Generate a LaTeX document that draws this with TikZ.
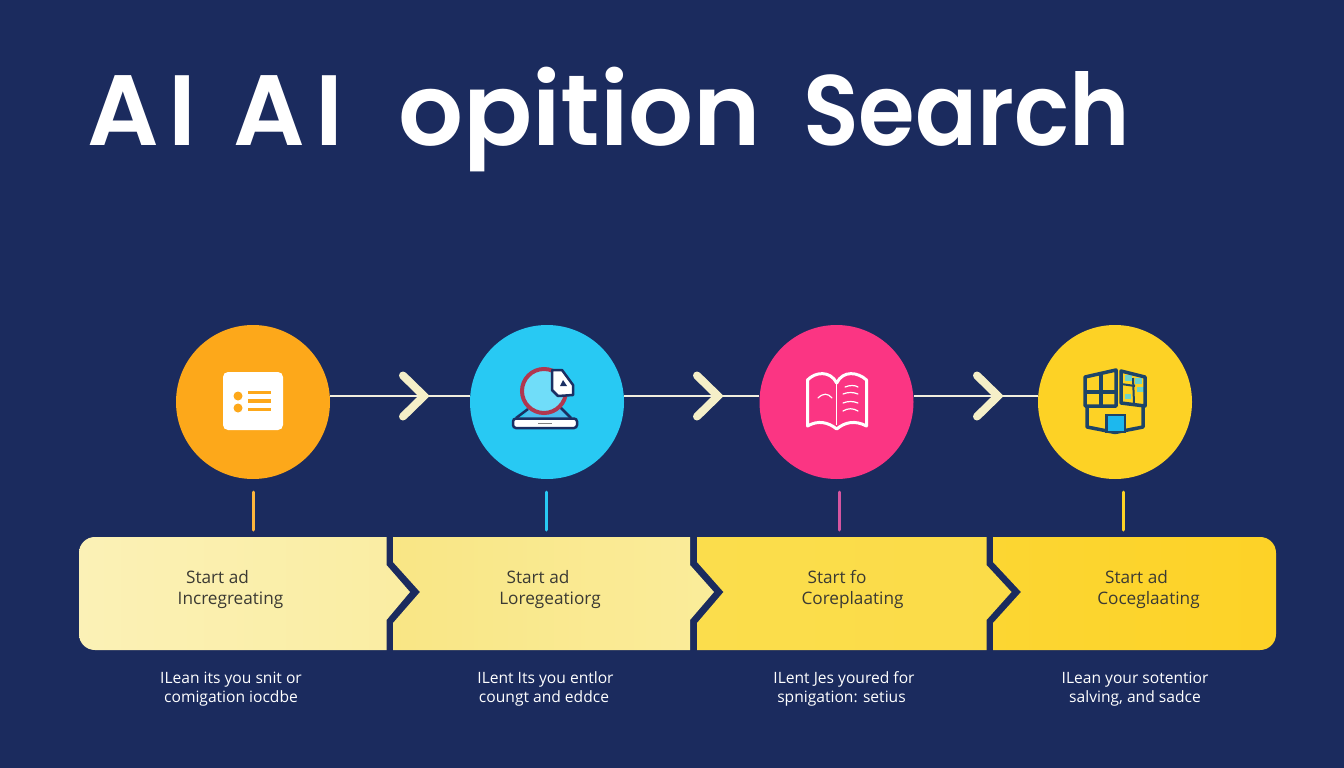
\documentclass[tikz,border=0pt]{standalone}
\usepackage{fontspec}
\setmainfont{Open Sans}
\newfontfamily\ttlfont{Poppins SemiBold}
\definecolor{bgc}{HTML}{1B2B5E}
\definecolor{cream}{HTML}{F5EFC8}
\definecolor{wire}{HTML}{F2EFDF}
\definecolor{navy}{HTML}{1B2F63}
\definecolor{ink}{HTML}{3B3A33}
\definecolor{corange}{HTML}{FDA81A}
\definecolor{ccyan}{HTML}{28C9F3}
\definecolor{cpink}{HTML}{FB3583}
\definecolor{cyell}{HTML}{FDD225}
\definecolor{bldg}{HTML}{1D4468}
\definecolor{sa}{HTML}{FBF1B6}
\definecolor{sb}{HTML}{FAEDA2}
\definecolor{sc}{HTML}{F9E685}
\definecolor{sd}{HTML}{FAEC9A}
\definecolor{se}{HTML}{FBDD4C}
\definecolor{sf}{HTML}{FBDC48}
\definecolor{sg}{HTML}{FCD632}
\definecolor{sh}{HTML}{FDD227}
\definecolor{ticki}{HTML}{D555A0}
\definecolor{ringr}{HTML}{B0374F}
\definecolor{lens}{HTML}{70DDF9}
\definecolor{stand}{HTML}{4DBDEF}
\definecolor{door}{HTML}{1CB8EE}
\definecolor{pane}{HTML}{6FD3C8}
\tikzset{
  stepdisc/.style={circle,minimum size=154pt,inner sep=0pt,draw=none},
  wireline/.style={draw=wire,line width=2.5pt},
  chev/.style={draw=cream,line width=8pt,line cap=round,miter limit=10},
  tick/.style={line width=3pt,line cap=round},
  ttl/.style={font=\ttlfont\fontsize{100}{100}\selectfont,text=white,anchor=base west,inner sep=0pt},
  seglabel/.style={font=\fontsize{17.2}{18}\selectfont,text=ink,inner sep=0pt,anchor=base},
  sublabel/.style={font=\fontsize{15.6}{16}\selectfont,text=white,inner sep=0pt,anchor=base},
  booki/.style={draw=white,line width=3pt,line join=round},
  booko/.style={draw=white,line width=1.2pt,line cap=round},
  bld/.style={draw=bldg,line width=3.5pt,line join=round},
}
\begin{document}
\begin{tikzpicture}[x=1pt,y=-1pt]
\fill[bgc] (0,0) rectangle (1344,768);
\useasboundingbox (0,0) rectangle (1344,768);
% title
\node[ttl] (t1) at (87,145) {A\hspace{10pt}I\hspace{37pt}A\hspace{10pt}I};
\node[ttl] (t2) at (398,145) {\scalebox{1.02}[1]{opition}};
\node[ttl] (t3) at (803,145) {\scalebox{0.915}[1]{Search}};
% discs
\node[stepdisc,fill=corange] (c1) at (253,402) {};
\node[stepdisc,fill=ccyan] (c2) at (547,402) {};
\node[stepdisc,fill=cpink] (c3) at (836.5,402) {};
\node[stepdisc,fill=cyell] (c4) at (1115,402) {};
% connectors
\coordinate (h1) at (424,396);
\coordinate (h2) at (718,396);
\coordinate (h3) at (998,396);
\draw[wireline] (c1.east |- h1) -- (c2.west |- h1);
\draw[wireline] (c2.east |- h2) -- (c3.west |- h2);
\draw[wireline] (c3.east |- h3) -- (c4.west |- h3);
\foreach \h in {h1,h2,h3}
  \draw[chev] ([shift={(-21,-20.5)}]\h) -- (\h) -- ([shift={(-21,20.5)}]\h);
% ticks
\coordinate (a1) at (253.5,492); \coordinate (b1) at (253.5,530);
\coordinate (a2) at (546,492);   \coordinate (b2) at (546,530);
\coordinate (a3) at (839,492);   \coordinate (b3) at (839,530);
\coordinate (a4) at (1123,492);  \coordinate (b4) at (1123,530);
\draw[tick,draw=corange!85!white] (a1) -- (b1);
\draw[tick,draw=ccyan] (a2) -- (b2);
\draw[tick,draw=ticki] (a3) -- (b3);
\draw[tick,draw=cyell] (a4) -- (b4);
% band segments
\path[left color=sa,right color=sb] (386.5,537) -- (386.5,565) -- (410,592) -- (386.5,620) -- (386.5,650) -- (95,650)
  .. controls (86,650) and (79,643) .. (79,634) -- (79,553) .. controls (79,544) and (86,537) .. (95,537) -- cycle;
\path[left color=sc,right color=sd] (393,537) -- (690,537) -- (690,565) -- (714,592) -- (690,620) -- (690,650) -- (393,650)
  -- (393,623) -- (420,592) -- (393,562) -- cycle;
\path[left color=se,right color=sf] (697,537) -- (986.5,537) -- (986.5,565) -- (1011.5,592) -- (986.5,620) -- (986.5,650) -- (697,650)
  -- (697,623) -- (723.5,592) -- (697,562) -- cycle;
\path[left color=sg,right color=sh] (993,537) -- (1260,537) .. controls (1269,537) and (1276,544) .. (1276,553)
  -- (1276,634) .. controls (1276,643) and (1269,650) .. (1260,650) -- (993,650)
  -- (993,623) -- (1021,592) -- (993,562) -- cycle;
% band labels
\node[seglabel] (s1a) at (217.5,583) {Start ad};
\node[seglabel] (s1b) at (230.5,604) {Incregreating};
\node[seglabel] (s2a) at (538,583) {Start ad};
\node[seglabel] (s2b) at (550,604) {Loregeatiorg};
\node[seglabel] (s3a) at (837,583) {Start fo};
\node[seglabel] (s3b) at (852.5,604) {Coreplaating};
\node[seglabel] (s4a) at (1136.5,583) {Start ad};
\node[seglabel] (s4b) at (1148.5,604) {Coceglaating};
% sub labels
\node[sublabel] (d1a) at (231,683) {ILean its you snit or};
\node[sublabel] (d1b) at (231,702) {comigation iocdbe};
\node[sublabel] (d2a) at (545.5,683) {ILent Its you entlor};
\node[sublabel] (d2b) at (544,702) {coungt and eddce};
\node[sublabel] (d3a) at (844,683) {ILent Jes youred for};
\node[sublabel] (d3b) at (841.5,702) {spnigation: setius};
\node[sublabel] (d4a) at (1135,683) {ILean your sotentior};
\node[sublabel] (d4b) at (1135,702) {salving, and sadce};
% icon 1: list card
\fill[white,rounded corners=5pt] (223,372) rectangle (283,430);
\fill[corange] (238,396) circle[radius=4.5];
\fill[corange] (238,408) circle[radius=4.5];
\draw[corange,line width=3.5pt] (248,392.5) -- (271,392.5) (248,401) -- (271,401) (248,409.5) -- (271,409.5);
% icon 2: lens, page and laptop
\fill[stand] (530,408) -- (558,406) -- (569,419) -- (522,419) -- cycle;
\draw[navy,line width=2.5pt] (528,409) -- (516,418) (560,407) -- (571,418);
\filldraw[fill=lens,draw=ringr,line width=4pt] (544,391) circle[radius=22];
\filldraw[fill=white,draw=navy,line width=2.5pt,line join=round] (552,370) -- (562,370) -- (573,385) -- (573,395) -- (558,396) -- (552,390) -- cycle;
\fill[navy] (560,386) -- (563,380) -- (567,386) -- cycle;
\filldraw[fill=white,draw=navy,line width=2.5pt,rounded corners=3pt] (513,418.5) rectangle (577,428);
\draw[gray,line width=1.5pt] (538,423.5) -- (552,423.5);
% icon 3: book
\draw[booki] (807.5,426) -- (807.5,380) .. controls (815,372) and (830,370) .. (836.7,383) .. controls (843,370) and (858,372) .. (866.5,380) -- (866.5,426)
  .. controls (855,420) and (845,422) .. (836.7,429) .. controls (828,422) and (818,420) .. (807.5,426) -- cycle;
\draw[draw=white,line width=1.5pt] (836.7,383) -- (836.7,425);
\draw[booko] (818,398) .. controls (823,393) and (828,393) .. (832,398);
\draw[booko] (845,387) .. controls (850,385) and (855,385) .. (858,387);
\draw[booko] (843,394) .. controls (848,392) and (853,392) .. (858,394);
\draw[booko] (843,403) .. controls (848,401) and (853,401) .. (858,403);
\draw[booko] (843,411) .. controls (848,408) and (853,408) .. (858,411);
% icon 4: building
\draw[bld] (1085,377) -- (1116,370) -- (1116,406) -- (1085,406) -- cycle;
\draw[bld] (1101,374) -- (1101,406) (1085,392) -- (1116,392);
\fill[pane] (1125,375) rectangle (1132,381);
\fill[pane] (1135,378) rectangle (1142,384);
\fill[pane] (1137,387) rectangle (1144,392);
\fill[pane] (1125,394) rectangle (1131,399);
\draw[bld] (1121,371) -- (1145,377) -- (1145,406) -- (1121,403) -- cycle;
\draw[bld,line width=2pt] (1121,384) -- (1135,386) (1133,378) -- (1134,403);
\draw[bld] (1087,407) -- (1087,427) -- (1115,432.5) -- (1143,427) -- (1143,407);
\filldraw[fill=door,draw=bldg,line width=2.5pt] (1106.5,415) rectangle (1125,432);
\end{tikzpicture}
\end{document}
